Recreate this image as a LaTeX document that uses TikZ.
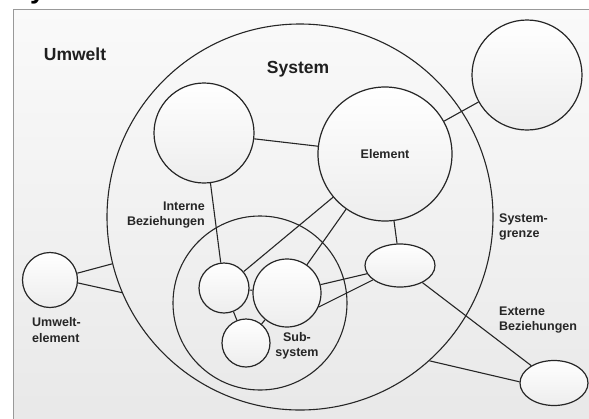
\documentclass[tikz,border=0pt]{standalone}
\usepackage{fontspec}
\setmainfont{Liberation Sans}
\usetikzlibrary{shapes.geometric}

\begin{document}
\begin{tikzpicture}[x=1pt,y=-1pt,
        elem/.style={circle,draw=black!85,line width=1.2pt,inner sep=0pt,
            top color=white,bottom color=black!7},
        oval/.style={ellipse,draw=black!85,line width=1.2pt,inner sep=0pt,
            top color=white,bottom color=black!7},
        ring/.style={circle,draw=black!85,line width=1.1pt,inner sep=0pt},
        lbl/.style={font=\bfseries\fontsize{12.5}{15.5}\selectfont,text=black!85,inner sep=0pt},
        bigl/.style={font=\bfseries\fontsize{17.5}{20}\selectfont,text=black!88,inner sep=0pt},
        rel/.style={draw=black!85,line width=1.1pt}]
                \useasboundingbox (0,0) rectangle (589,418);
                \clip (0,0) rectangle (589,418);
                %frame
                \fill[top color=black!2,bottom color=black!9] (13,9) rectangle (600,430);
                \draw[black!40,line width=1pt] (13,430) -- (13,9) -- (600,9);
                \node[anchor=base west,font=\bfseries\fontsize{27}{30}\selectfont,inner sep=0pt]
                    (title) at (12,-2) {System};
                %system and subsystem
                \node[ring,minimum size=386pt] (sys) at (300,217) {};
                \node[ring,minimum size=174pt] (sub) at (260,303) {};
                %elements
                \node[elem,minimum size=100pt] (upper) at (204,133) {};
                \node[elem,minimum size=134pt,lbl] (element) at (385,154) {Element};
                \node[elem,minimum size=110pt] (outer) at (527,75) {};
                \node[elem,minimum size=50pt] (suba) at (224,288) {};
                \node[elem,minimum size=68pt] (subb) at (287,293) {};
                \node[elem,minimum size=48pt] (subc) at (246,343) {};
                \node[oval,minimum width=70pt,minimum height=43pt] (inner) at (400,265.5) {};
                \node[oval,minimum width=68pt,minimum height=45pt] (extern) at (554,383) {};
                \node[elem,minimum size=55pt] (umw) at (50,280) {};
                %relations
                \foreach \a/\b in {upper/element,element/outer,upper/suba,element/suba,
                        element/subb,element/inner,suba/subb,suba/subc,subc/subb,inner/extern}
                    \draw[rel] (\a) -- (\b);
                \draw[rel] (inner.194) -- (subb.14);
                \draw[rel] (inner.208) -- (subb.336);
                \draw[rel] (sys.312) -- (extern.178);
                \draw[rel] (umw.14) -- (sys.194);
                \draw[rel] (umw.354) -- (sys.203);
                %labels
                \node[bigl] (umweltlbl) at (75,54) {Umwelt};
                \node[bigl] (syslbl) at (298,69) {System};
                \node[lbl,align=right,anchor=east] (intlbl) at (205,215) {Interne\\Beziehungen};
                \node[lbl,align=center] (sublbl) at (297,346) {Sub-\\system};
                \node[lbl,align=left,anchor=west] (grenzlbl) at (499,227) {System-\\grenze};
                \node[lbl,align=left,anchor=west] (extlbl) at (499,320) {Externe\\Beziehungen};
                \node[lbl,align=left,anchor=west] (umwlbl) at (32,330) {Umwelt-\\element};
            \end{tikzpicture}
\end{document}
